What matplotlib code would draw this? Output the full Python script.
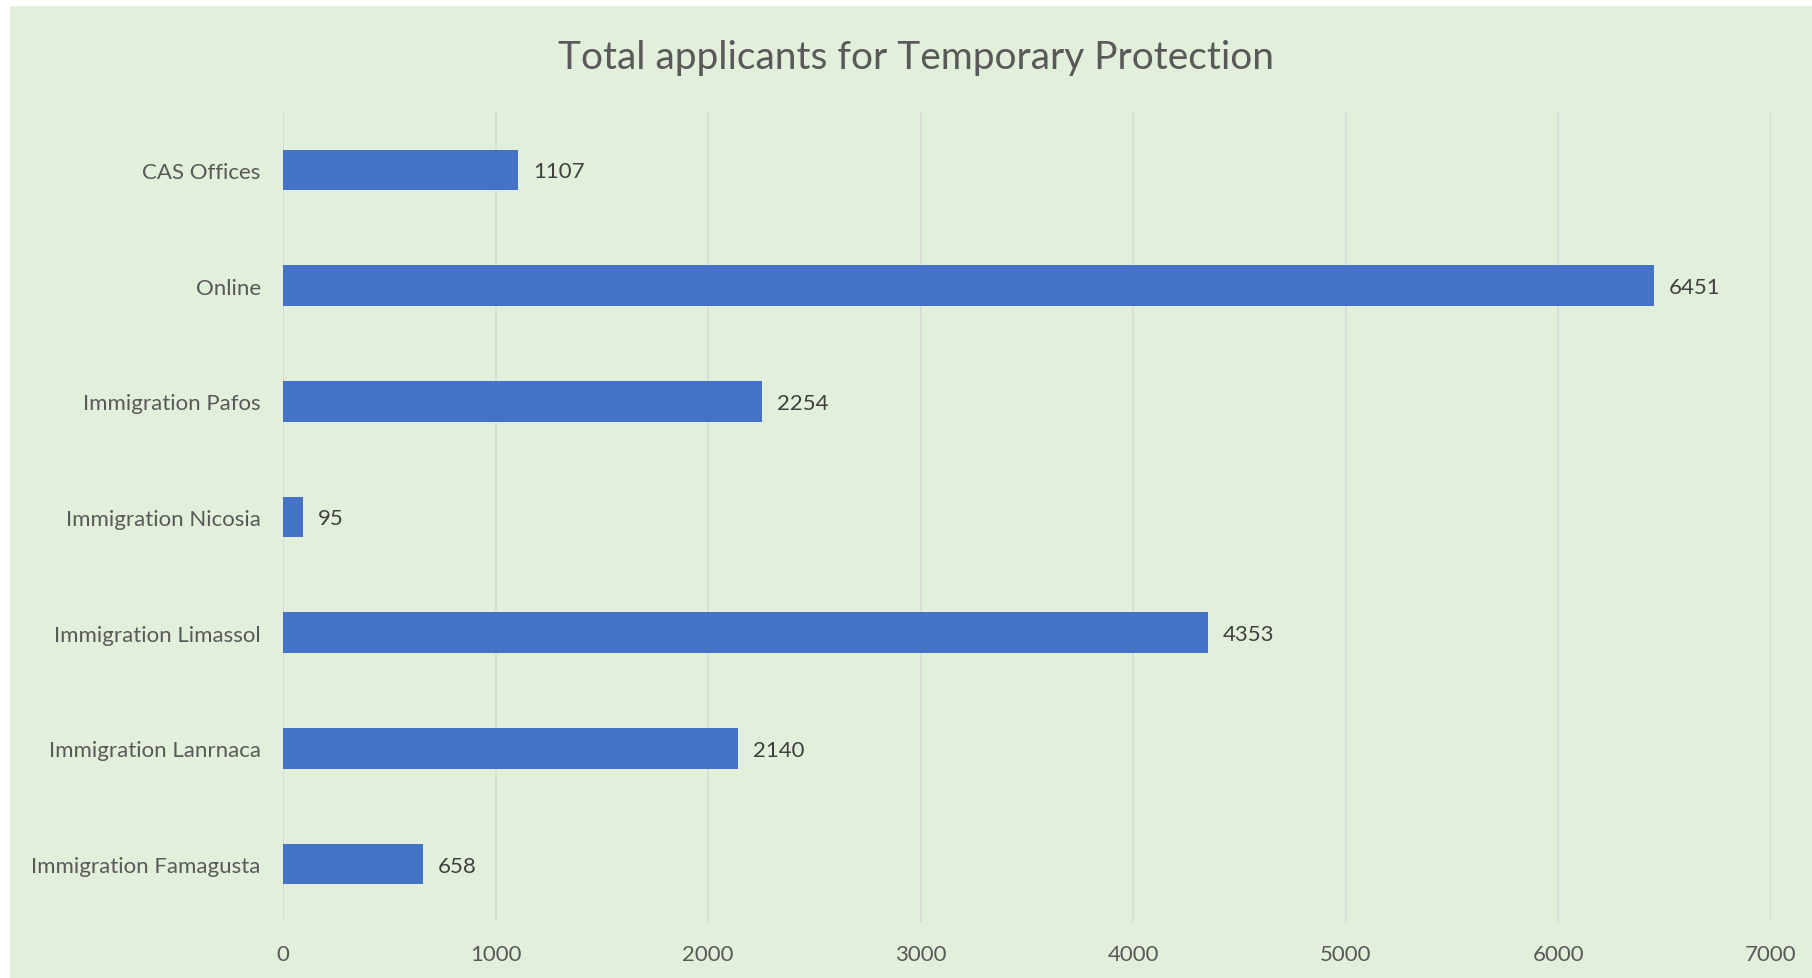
import matplotlib
matplotlib.use('Agg')
import matplotlib.pyplot as plt
from matplotlib.patches import Rectangle

categories = ['CAS Offices', 'Online', 'Immigration Pafos', 'Immigration Nicosia',
              'Immigration Limassol', 'Immigration Lanrnaca', 'Immigration Famagusta']
applicants = [1107, 6451, 2254, 95, 4353, 2140, 658]
x_ticks = [0, 1000, 2000, 3000, 4000, 5000, 6000, 7000]

plt.rcParams['font.family'] = ['Lato', 'DejaVu Sans']

fig = plt.figure(figsize=(18.12, 9.79), dpi=100)
fig.patch.set_facecolor('white')
# green chart area, leaving the thin white strip at top and left
fig.patches.append(Rectangle((10 / 1812, 0), 1, 1 - 7 / 979, transform=fig.transFigure,
                             facecolor='#E2EFDA', edgecolor='none', zorder=-10))

ax = fig.add_axes([0.1562, 0.0572, 0.8212, 0.8274])
ax.set_facecolor('none')
ax.set_zorder(1)

ypos = list(range(len(categories)))[::-1]
bars = ax.barh(ypos, applicants, height=0.35, color='#4472C4', zorder=3)

for y, v in zip(ypos, applicants):
    ax.annotate(str(v), (v, y), xytext=(10.5, -1), textcoords='offset points',
                va='center', ha='left', fontsize=16, color='#404040')

ax.set_xlim(0, 7000)
ax.set_ylim(-0.5, len(categories) - 0.5)
ax.set_xticks(x_ticks)
ax.set_yticks(ypos)
ax.set_yticklabels(categories)
ax.tick_params(axis='both', length=0, labelsize=16, labelcolor='#595959')
ax.tick_params(axis='y', pad=16)
ax.tick_params(axis='x', pad=16)
ax.grid(axis='x', color='#D9D9D9', linewidth=1.2, zorder=0)
ax.grid(axis='y', visible=False)
for s in ax.spines.values():
    s.set_visible(False)

fig.text(0.5057, 0.941, 'Total applicants for Temporary Protection', ha='center', va='center',
         fontsize=28, color='#595959')

fig.savefig('out.png', dpi=100, facecolor=fig.get_facecolor())
